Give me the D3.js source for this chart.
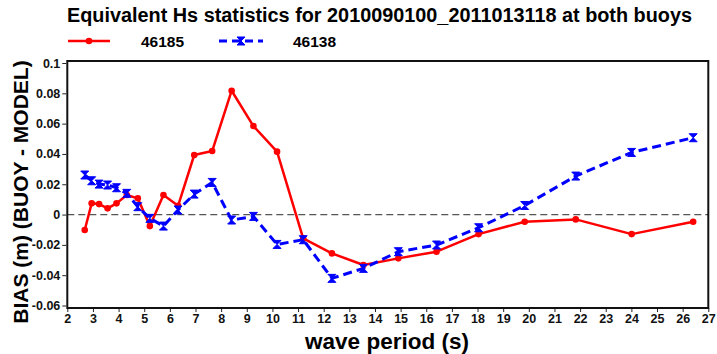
<!DOCTYPE html>
<html>
<head>
<meta charset="utf-8">
<script src="https://cdn.jsdelivr.net/npm/d3@7"></script>
<style>
  html, body { margin: 0; padding: 0; background: #fff; }
  svg { display: block; font-family: "Liberation Sans", Arial, Helvetica, sans-serif; }
</style>
</head>
<body>
<svg id="chart" width="717" height="354"></svg>
<script>
// Wave period bins (s)
const periods = [2.68, 2.95, 3.24, 3.57, 3.92, 4.32, 4.75, 5.22, 5.75, 6.32, 6.95, 7.65, 8.41,
                 9.26, 10.18, 11.2, 12.32, 13.55, 14.91, 16.4, 18.04, 19.84, 21.83, 24.01, 26.41];
// Bias (buoy - model) in metres for each buoy
const bias46185 = [-0.0102, 0.0074, 0.0069, 0.0041, 0.0074, 0.0129, 0.0107, -0.0076, 0.0129, 0.0058,
                   0.0393, 0.0419, 0.0817, 0.0584, 0.0415, -0.0157, -0.0256, -0.0333, -0.0289, -0.0245,
                   -0.0129, -0.0047, -0.0032, -0.0129, -0.0047];
const bias46138 = [0.0261, 0.0223, 0.0201, 0.0195, 0.0177, 0.0140, 0.0052, -0.0025, -0.0076, 0.0030,
                   0.0135, 0.0212, -0.0036, -0.0012, -0.0197, -0.0166, -0.0421, -0.0355, -0.0245, -0.0201,
                   -0.0087, 0.0060, 0.0254, 0.0410, 0.0507];
const seriesNames = ["46185", "46138"];
const xTicks = d3.range(2, 28, 1);
const yTicks = [-0.06, -0.04, -0.02, 0, 0.02, 0.04, 0.06, 0.08, 0.1];
const yTickLabels = ["-0.06", "-0.04", "-0.02", "0", "0.02", "0.04", "0.06", "0.08", "0.1"];
const titleText = "Equivalent Hs statistics for 2010090100_2011013118 at both buoys";

const svg = d3.select("#chart");

const x = d3.scaleLinear().domain([2, 27]).range([67.3, 708.3]);
const y = d3.scaleLinear().domain([-0.06, 0.1]).range([305.5, 63]);

const boxTop = y(0.1) - 2, boxBottom = y(-0.06) + 2.5;
const boxLeft = x(2), boxRight = x(27);

// Title
svg.append("text")
  .attr("x", 67).attr("y", 22)
  .attr("font-size", 19.5).attr("font-weight", "bold")
  .attr("textLength", 625).attr("lengthAdjust", "spacingAndGlyphs")
  .text(titleText);

// Axes
const xAxis = d3.axisBottom(x).tickValues(xTicks).tickSize(4).tickPadding(2)
  .tickFormat(d3.format("d"));
svg.append("g").attr("transform", `translate(0,${boxBottom})`).call(xAxis)
  .call(g => g.select(".domain").remove())
  .call(g => g.selectAll("line").attr("stroke", "#222").attr("stroke-width", 1))
  .call(g => g.selectAll("text").attr("font-size", 12.5).attr("font-weight", "bold")
    .attr("fill", "#111").attr("font-family", "Liberation Sans, Arial, sans-serif"));

const yAxis = d3.axisLeft(y).tickValues(yTicks).tickSize(4).tickPadding(2)
  .tickFormat((d, i) => yTickLabels[i]);
svg.append("g").attr("transform", `translate(${boxLeft - 1},0)`).call(yAxis)
  .call(g => g.select(".domain").remove())
  .call(g => g.selectAll("line").attr("stroke", "#222").attr("stroke-width", 1))
  .call(g => g.selectAll("text").attr("font-size", 12.5).attr("font-weight", "bold")
    .attr("fill", "#111").attr("font-family", "Liberation Sans, Arial, sans-serif"));

// Zero reference line
svg.append("line")
  .attr("x1", boxLeft).attr("x2", boxRight)
  .attr("y1", y(0)).attr("y2", y(0))
  .attr("stroke", "#555").attr("stroke-width", 1.2)
  .attr("stroke-dasharray", "7,4");

// Series
const pts185 = periods.map((p, i) => [p, bias46185[i]]);
const pts138 = periods.map((p, i) => [p, bias46138[i]]);
const line = d3.line().x(d => x(d[0])).y(d => y(d[1]));

const bowtie = "M-4,-4L4,-4L0,0L4,4L-4,4L0,0Z";

svg.append("path").datum(pts185)
  .attr("d", line).attr("fill", "none")
  .attr("stroke", "#ff0000").attr("stroke-width", 2.5).attr("stroke-linejoin", "round");
svg.append("g").selectAll("circle").data(pts185).join("circle")
  .attr("cx", d => x(d[0])).attr("cy", d => y(d[1])).attr("r", 3.3)
  .attr("fill", "#ff0000");

svg.append("path").datum(pts138)
  .attr("d", line).attr("fill", "none")
  .attr("stroke", "#0000ff").attr("stroke-width", 3)
  .attr("stroke-dasharray", "9,5");
svg.append("g").selectAll("path").data(pts138).join("path")
  .attr("d", bowtie)
  .attr("transform", d => `translate(${x(d[0])},${y(d[1])})`)
  .attr("fill", "#0000ff").attr("stroke", "#0000ff").attr("stroke-width", 1);

// Frame
svg.append("rect")
  .attr("x", boxLeft).attr("y", boxTop)
  .attr("width", boxRight - boxLeft).attr("height", boxBottom - boxTop)
  .attr("fill", "none").attr("stroke", "#111").attr("stroke-width", 2);

// Legend
const legend = svg.append("g");
legend.append("line").attr("x1", 68).attr("x2", 110).attr("y1", 41).attr("y2", 41)
  .attr("stroke", "#ff0000").attr("stroke-width", 2.5);
legend.append("circle").attr("cx", 89).attr("cy", 41).attr("r", 3.3).attr("fill", "#ff0000");
legend.append("text").attr("x", 141).attr("y", 47).attr("font-size", 15.5).attr("font-weight", "bold")
  .text(seriesNames[0]);
legend.append("line").attr("x1", 219).attr("x2", 263).attr("y1", 41).attr("y2", 41)
  .attr("stroke", "#0000ff").attr("stroke-width", 3).attr("stroke-dasharray", "8,5");
legend.append("path").attr("d", bowtie).attr("transform", "translate(241,41)")
  .attr("fill", "#0000ff").attr("stroke", "#0000ff");
legend.append("text").attr("x", 293).attr("y", 47).attr("font-size", 15.5).attr("font-weight", "bold")
  .text(seriesNames[1]);

// Axis titles
svg.append("text")
  .attr("transform", "translate(28,192) rotate(-90)")
  .attr("text-anchor", "middle").attr("font-size", 21).attr("font-weight", "bold")
  .text("BIAS (m) (BUOY - MODEL)");
svg.append("text")
  .attr("x", 387).attr("y", 349)
  .attr("text-anchor", "middle").attr("font-size", 22.5).attr("font-weight", "bold")
  .text("wave period (s)");
</script>
</body>
</html>
